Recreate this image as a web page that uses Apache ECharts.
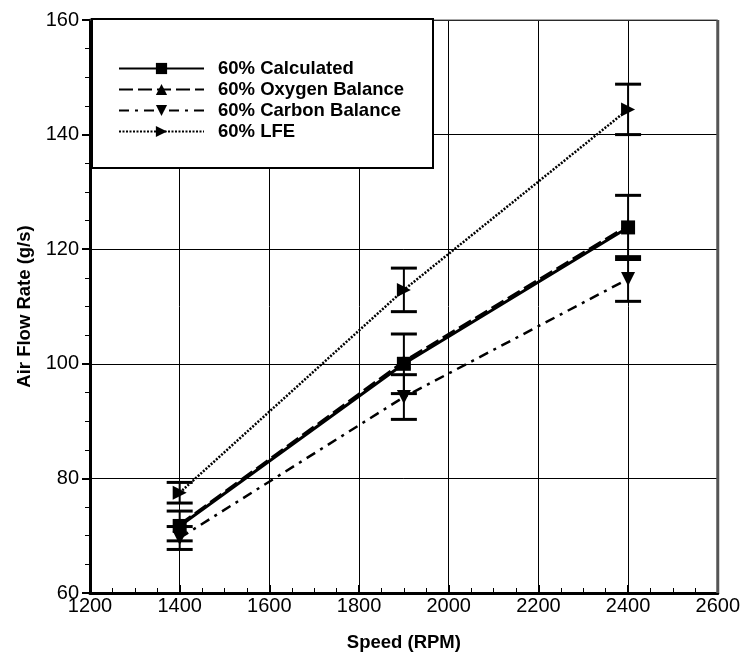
<!DOCTYPE html>
<html>
<head>
<meta charset="utf-8">
<script src="https://cdn.jsdelivr.net/npm/echarts@6/dist/echarts.min.js"></script>
<style>html,body{margin:0;padding:0;background:#fff;overflow:hidden}#c{width:743px;height:659px}</style>
</head>
<body>
<div id="c"></div>
<script>
const speeds = [1400, 1900, 2400];
const seriesNames = ['60% Calculated', '60% Oxygen Balance', '60% Carbon Balance', '60% LFE'];
const calculated = [71.7, 100.0, 123.8];
const calculatedErr = [2.6, 5.2, 5.6];
const oxygen = [71.9, 100.4, 124.1];
const carbon = [69.6, 94.2, 114.8];
const carbonErr = [2.0, 3.9, 3.9];
const lfe = [77.5, 112.9, 144.4];
const lfeErr = [1.8, 3.8, 4.4];
const xTicks = [1200, 1400, 1600, 1800, 2000, 2200, 2400, 2600];
const yTicks = [60, 80, 100, 120, 140, 160];

const font = '"Liberation Sans", Arial, sans-serif';
const pts = (vals) => speeds.map((s, i) => [s, vals[i]]);
const errData = (vals, errs) => speeds.map((s, i) => [s, vals[i] - errs[i], vals[i] + errs[i]]);

function errSeries(vals, errs) {
  return {
    type: 'custom',
    silent: true,
    z: 3,
    data: errData(vals, errs),
    renderItem: function (params, api) {
      const x = api.value(0);
      const lo = api.coord([x, api.value(1)]);
      const hi = api.coord([x, api.value(2)]);
      const hw = 13;
      const st = { stroke: '#000', lineWidth: 3 };
      return {
        type: 'group',
        children: [
          { type: 'line', shape: { x1: lo[0], y1: lo[1], x2: hi[0], y2: hi[1] }, style: { stroke: '#000', lineWidth: 2 } },
          { type: 'line', shape: { x1: lo[0] - hw, y1: lo[1], x2: lo[0] + hw, y2: lo[1] }, style: st },
          { type: 'line', shape: { x1: hi[0] - hw, y1: hi[1], x2: hi[0] + hw, y2: hi[1] }, style: st }
        ]
      };
    }
  };
}

const chart = echarts.init(document.getElementById('c'), null, { renderer: 'canvas' });
chart.setOption({
  animation: false,
  backgroundColor: '#fff',
  grid: { left: 90, right: 21, top: 20, bottom: 66, show: false },
  legend: {
    z: 10,
    orient: 'vertical',
    left: 113,
    top: 54,
    itemWidth: 85,
    itemHeight: 14,
    itemGap: 2,
    data: seriesNames,
    textStyle: { fontFamily: font, fontWeight: 'bold', fontSize: 18.5, color: '#000', padding: [0, 0, 0, 9] }
  },
  xAxis: {
    type: 'value', min: 1200, max: 2600, interval: 200,
    name: 'Speed (RPM)', nameLocation: 'middle', nameGap: 40,
    nameTextStyle: { fontFamily: font, fontWeight: 'bold', fontSize: 18.5, color: '#000' },
    axisLine: { show: true, onZero: false, lineStyle: { color: '#000', width: 3 } },
    axisTick: { show: true, inside: true, length: 8, lineStyle: { color: '#000', width: 2 } },
    minorTick: { show: true, splitNumber: 4, length: 5, lineStyle: { color: '#000', width: 1 } },
    axisLabel: { fontFamily: font, fontSize: 20, color: '#000', margin: 3,
      formatter: v => xTicks.includes(v) ? String(v) : '' },
    splitLine: { show: true, lineStyle: { color: '#000', width: 1 } }
  },
  yAxis: {
    type: 'value', min: 60, max: 160, interval: 20,
    name: 'Air Flow Rate (g/s)', nameLocation: 'middle', nameGap: 44, nameRotate: 90,
    nameTextStyle: { fontFamily: font, fontWeight: 'bold', fontSize: 18.5, color: '#000' },
    axisLine: { show: true, onZero: false, lineStyle: { color: '#000', width: 3 } },
    axisTick: { show: true, inside: false, length: 8, lineStyle: { color: '#000', width: 2 } },
    minorTick: { show: true, splitNumber: 4, length: 5, lineStyle: { color: '#000', width: 1 } },
    axisLabel: { fontFamily: font, fontSize: 20, color: '#000', margin: 11,
      formatter: v => yTicks.includes(v) ? String(v) : '' },
    splitLine: { show: true, lineStyle: { color: '#000', width: 1 } }
  },
  series: [
    errSeries(calculated, calculatedErr),
    errSeries(carbon, carbonErr),
    errSeries(lfe, lfeErr),
    {
      name: seriesNames[0], type: 'line', data: pts(calculated), z: 4,
      symbol: 'rect', symbolSize: 14,
      lineStyle: { color: '#000', width: 3, type: 'solid' },
      itemStyle: { color: '#000' }
    },
    {
      name: seriesNames[1], type: 'line', data: pts(oxygen), z: 4,
      symbol: 'triangle', symbolSize: 14,
      lineStyle: { color: '#000', width: 3, type: [14, 5] },
      itemStyle: { color: '#000' }
    },
    {
      name: seriesNames[2], type: 'line', data: pts(carbon), z: 4,
      symbol: 'triangle', symbolRotate: 180, symbolSize: 14,
      lineStyle: { color: '#000', width: 2.5, type: [10, 6, 3, 6] },
      itemStyle: { color: '#000' }
    },
    {
      name: seriesNames[3], type: 'line', data: pts(lfe), z: 4,
      symbol: 'triangle', symbolRotate: -90, symbolSize: 14,
      lineStyle: { color: '#000', width: 2.5, type: [2, 1.5] },
      itemStyle: { color: '#000' }
    }
  ]
});
const g = chart.getModel().getComponent('grid').coordinateSystem.getRect();
chart.setOption({
  graphic: [
    { type: 'rect', z: 3, shape: { x: 92, y: 19, width: 341, height: 149 }, style: { fill: '#fff', stroke: '#000', lineWidth: 2 } },
    { type: 'line', z: 2, shape: { x1: g.x, y1: g.y, x2: g.x + g.width, y2: g.y }, style: { stroke: '#555', lineWidth: 1 } },
    { type: 'line', z: 2, shape: { x1: g.x + g.width, y1: g.y, x2: g.x + g.width, y2: g.y + g.height }, style: { stroke: '#555', lineWidth: 3 } }
  ]
});
</script>
</body>
</html>
